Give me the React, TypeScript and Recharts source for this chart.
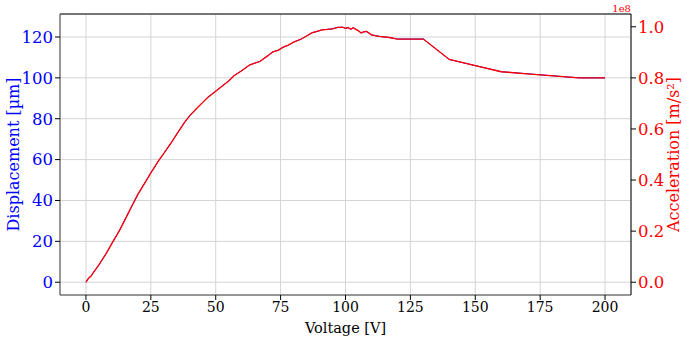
import { ComposedChart, Line, XAxis, YAxis, CartesianGrid, ReferenceLine } from 'recharts'

const SERIF = "'DejaVu Serif', serif"
const BLUE = '#0000ff'
const RED = '#ff0000'

// voltage [V] at each sample
const voltage = [
  0, 1, 2, 3, 5, 8, 10, 13, 15, 18, 20, 23, 25, 28, 30, 33, 35, 38, 40, 43, 45, 47,
  50, 53, 55, 57, 60, 63, 65, 67, 70, 72, 74, 76, 78, 80, 83, 85, 87, 89, 91, 93,
  95, 97, 99, 100, 101, 102, 103, 104, 105, 106, 107, 108, 109, 110, 113, 117, 120,
  130, 140, 150, 160, 170, 180, 190, 200,
]

// displacement [µm]
const displacement = [
  0, 2, 3, 5, 8.5, 14.5, 19, 25.5, 30.5, 38, 43, 49.3, 53.5, 59.5, 63, 68.5, 72.5, 78.3, 81.5, 85.5, 88, 90.5,
  93.5, 96.5, 98.5, 101, 103.5, 106.3, 107.2, 108, 110.8, 112.7, 113.5, 115, 116, 117.5, 119, 120.5, 122, 122.7, 123.5, 123.7,
  124, 124.7, 124.8, 124.2, 124.6, 123.8, 124.5, 123.8, 123, 122, 122.5, 122.8, 122, 121, 120.3, 119.7, 119,
  119, 109, 106, 103, 102, 101, 100, 100,
]

// acceleration [1e8 m/s²]
const acceleration = [
  0, 0.016, 0.024, 0.04, 0.068, 0.116, 0.152, 0.204, 0.244, 0.304, 0.344, 0.394, 0.428, 0.476, 0.504, 0.548, 0.58, 0.626, 0.652, 0.684, 0.704, 0.724,
  0.748, 0.772, 0.788, 0.808, 0.828, 0.85, 0.858, 0.864, 0.886, 0.902, 0.908, 0.92, 0.928, 0.94, 0.952, 0.964, 0.976, 0.982, 0.988, 0.99,
  0.992, 0.998, 0.998, 0.994, 0.997, 0.99, 0.996, 0.99, 0.984, 0.976, 0.98, 0.982, 0.976, 0.968, 0.962, 0.958, 0.952,
  0.952, 0.872, 0.848, 0.824, 0.816, 0.808, 0.8, 0.8,
]

const xTicks = [0, 25, 50, 75, 100, 125, 150, 175, 200]
const leftTicks = [0, 20, 40, 60, 80, 100, 120]
const rightTicks = [0, 0.2, 0.4, 0.6, 0.8, 1.0]

const data = voltage.map((v, i) => ({ v, d: displacement[i], a: acceleration[i] }))

export default function App() {
  const leftLabel = ({ viewBox }: any) => {
    const cx = (viewBox?.x ?? 0) + 13
    const cy = (viewBox?.y ?? 0) + (viewBox?.height ?? 0) / 2
    return (
      <text x={cx} y={cy} transform={`rotate(-90, ${cx}, ${cy})`} textAnchor="middle" dominantBaseline="central"
        fill={BLUE} fontFamily={SERIF} fontSize={16}>
        Displacement [µm]
      </text>
    )
  }

  const rightLabel = ({ viewBox }: any) => {
    const x0 = viewBox?.x ?? 0
    const cx = x0 + 42
    const cy = (viewBox?.y ?? 0) + (viewBox?.height ?? 0) / 2
    return (
      <g>
        <text x={cx} y={cy} transform={`rotate(-90, ${cx}, ${cy})`} textAnchor="middle" dominantBaseline="central"
          fill={RED} fontFamily={SERIF} fontSize={16}>
          Acceleration [m/s²]
        </text>
        <text x={x0} y={(viewBox?.y ?? 0) - 2.5} textAnchor="end" fill={RED} fontFamily={SERIF} fontSize={10}>
          1e8
        </text>
      </g>
    )
  }

  return (
    <div style={{ position: 'absolute', left: 0, top: 0 }}>
      <ComposedChart width={687} height={341} data={data} margin={{ top: 14, right: 0, bottom: 0, left: 0 }}>
        <CartesianGrid yAxisId="left" stroke="#d4d4d4" strokeWidth={1} />
        <XAxis
          dataKey="v"
          type="number"
          domain={[-10, 210]}
          ticks={xTicks}
          height={46}
          tickSize={5}
          tickMargin={2}
          stroke="#444"
          tickLine={{ stroke: '#000' }}
          tick={{ fill: '#000', fontSize: 14, fontFamily: SERIF }}
          label={{ value: 'Voltage [V]', position: 'insideBottom', offset: 8, fill: '#000', fontSize: 14.5, fontFamily: SERIF }}
        />
        <YAxis
          yAxisId="left"
          type="number"
          domain={[-6.25, 131.25]}
          ticks={leftTicks}
          width={60}
          tickSize={5}
          tickMargin={2}
          stroke="#444"
          tickLine={{ stroke: '#000' }}
          tick={{ fill: BLUE, fontSize: 16.5, fontFamily: SERIF }}
          label={leftLabel}
        />
        <YAxis
          yAxisId="right"
          orientation="right"
          type="number"
          domain={[-0.05, 1.05]}
          ticks={rightTicks}
          tickFormatter={(t: number) => t.toFixed(1)}
          width={56}
          tickSize={5}
          tickMargin={2}
          stroke="#000"
          tick={{ fill: RED, fontSize: 16.5, fontFamily: SERIF }}
          label={rightLabel}
        />
        <ReferenceLine yAxisId="left" y={131.25} stroke="#000" strokeWidth={1} />
        <Line yAxisId="left" type="linear" dataKey="d" stroke={BLUE} strokeWidth={1} dot={false} isAnimationActive={false} />
        <Line yAxisId="right" type="linear" dataKey="a" stroke={RED} strokeWidth={1.3} dot={false} isAnimationActive={false} />
      </ComposedChart>
    </div>
  )
}
